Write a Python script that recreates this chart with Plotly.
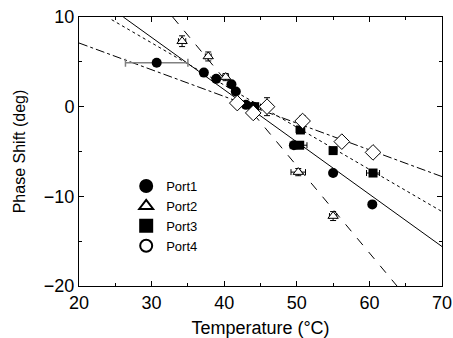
import plotly.graph_objects as go

# Port data (temperature °C, phase shift deg)
p1_x = [30.7, 37.2, 38.9, 41.0, 41.6, 43.0, 44.0, 49.6, 55.0, 60.4]
p1_y = [4.9, 3.8, 3.1, 2.5, 1.7, 0.2, 0.0, -4.3, -7.4, -10.9]
p1_xerr = [4.3, 0, 0, 0, 0, 0, 0, 0.5, 0, 0]

p2_x = [34.2, 37.8, 40.2, 50.2, 55.0]
p2_y = [7.3, 5.6, 3.3, -7.3, -12.2]
p2_xerr = [0.5, 0.4, 0.4, 1.0, 0.5]
p2_yerr = [0.6, 0.5, 0.4, 0.4, 0.5]

p3_x = [44.2, 50.4, 50.5, 55.0, 60.5]
p3_y = [0.0, -4.3, -2.6, -4.9, -7.4]
p3_xerr = [0.8, 1.0, 0.6, 0.5, 0.9]

p4_x = [41.8, 44.0, 45.9, 50.8, 56.2, 60.5]
p4_y = [0.4, -0.7, 0.0, -1.6, -3.9, -5.1]
p4_yerr = [0.3, 0.3, 1.0, 0.6, 0.5, 0.4]
p4_xerr = [0.5, 0.3, 0.3, 0.6, 0.6, 0.6]

# Linear fit lines (endpoints)
fit1_x = [26.1, 70.0]
fit1_y = [10.0, -15.6]
fit2_x = [32.9, 63.8]
fit2_y = [10.0, -20.0]
fit3_x = [24.5, 70.0]
fit3_y = [9.7, -11.7]
fit4_x = [20.0, 70.0]
fit4_y = [7.1, -7.8]

names = ["Port1", "Port2", "Port3", "Port4"]
legend_symbols = ["circle", "triangle-up-open", "square", "circle-open"]

FONT = "Liberation Sans"
fig = go.Figure()
ERR = "#808080"

for fx, fy, dash in [(fit1_x, fit1_y, "solid"), (fit2_x, fit2_y, "dash"),
                     (fit3_x, fit3_y, "dot"), (fit4_x, fit4_y, "dashdot")]:
    fig.add_trace(go.Scatter(x=fx, y=fy, mode="lines", showlegend=False,
                             line=dict(color="black", width=1, dash=dash)))

fig.add_trace(go.Scatter(x=p1_x, y=p1_y, mode="markers", showlegend=False,
                         error_x=dict(type="data", array=p1_xerr, color=ERR, thickness=1.5, width=4),
                         marker=dict(symbol="circle", size=10, color="black")))
fig.add_trace(go.Scatter(x=p2_x, y=p2_y, mode="markers", showlegend=False,
                         error_x=dict(type="data", array=p2_xerr, color="black", thickness=1, width=3),
                         error_y=dict(type="data", array=p2_yerr, color="black", thickness=1, width=3),
                         marker=dict(symbol="triangle-up", size=9, color="white",
                                     line=dict(color="black", width=1))))
fig.add_trace(go.Scatter(x=p3_x, y=p3_y, mode="markers", showlegend=False,
                         error_x=dict(type="data", array=p3_xerr, color="black", thickness=1, width=3),
                         marker=dict(symbol="square", size=9, color="black")))
fig.add_trace(go.Scatter(x=p4_x, y=p4_y, mode="markers", showlegend=False,
                         error_x=dict(type="data", array=p4_xerr, color="black", thickness=1, width=3),
                         error_y=dict(type="data", array=p4_yerr, color="black", thickness=1, width=3),
                         marker=dict(symbol="diamond", size=12, color="white",
                                     line=dict(color="black", width=1))))

for n, s in zip(names, legend_symbols):
    fig.add_trace(go.Scatter(x=[None], y=[None], mode="markers", name=n,
                             marker=dict(symbol=s, size=9, color="black",
                                         line=dict(color="black", width=1))))

axis_common = dict(showgrid=False, zeroline=False, showline=True, linecolor="black",
                   linewidth=1, mirror="ticks", ticks="inside", ticklen=5, automargin=False,
                   tickcolor="black", tickfont=dict(size=18, color="black", family=FONT))
fig.update_xaxes(range=[20, 70], dtick=10, minor=dict(dtick=5, ticks="inside", ticklen=3, tickcolor="black"),
                 title=dict(text="Temperature (°C)", font=dict(size=18, family=FONT, color="black"),
                            standoff=10),
                 **axis_common)
fig.update_yaxes(range=[-20, 10], dtick=10, minor=dict(dtick=5, ticks="inside", ticklen=3, tickcolor="black"),
                 title=dict(text="Phase Shift (deg)", font=dict(size=16, family=FONT, color="black"),
                            standoff=14),
                 **axis_common)

fig.update_layout(
    width=453, height=338,
    margin=dict(l=79, r=11, t=17, b=52),
    plot_bgcolor="white", paper_bgcolor="white",
    legend=dict(x=0.13, y=0.26, xanchor="left", yanchor="middle",
                bgcolor="rgba(0,0,0,0)", font=dict(size=13, family=FONT, color="black"),
                tracegroupgap=0, itemsizing="constant"),
)

fig.write_html("out.html")
